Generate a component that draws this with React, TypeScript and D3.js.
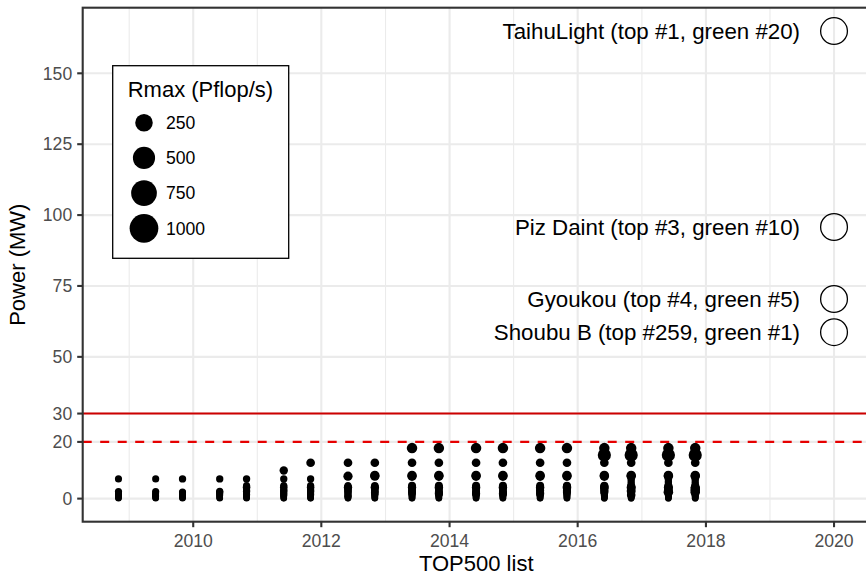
import * as d3 from "d3";

// TOP500 lists (month of publication)
const listDates = [
  "2008-11", "2009-06", "2009-11", "2010-06", "2010-11", "2011-06", "2011-11",
  "2012-06", "2012-11", "2013-06", "2013-11", "2014-06", "2014-11", "2015-06",
  "2015-11", "2016-06", "2016-11", "2017-06", "2017-11",
];

// power (MW) of the systems in each list
const powerByList = [
  [0.12, 0.35, 0.6, 0.9, 1.15, 1.4, 1.7, 2.1, 2.48, 6.95],
  [0.11, 0.34, 0.6, 0.86, 1.15, 1.38, 1.6, 2.0, 2.48, 6.95],
  [0.1, 0.35, 0.62, 0.9, 1.2, 1.5, 1.8, 2.1, 2.35, 6.95],
  [0.1, 0.33, 0.6, 0.9, 1.2, 1.5, 1.8, 2.1, 2.35, 2.58, 6.95],
  [0.1, 0.35, 0.65, 0.95, 1.25, 1.4, 1.8, 2.2, 2.58, 2.9, 3.3, 4.04, 4.59, 6.95],
  [0.1, 0.35, 0.65, 0.95, 1.25, 1.4, 1.8, 2.2, 2.58, 2.91, 3.3, 4.04, 4.59, 6.95, 9.89],
  [0.1, 0.35, 0.65, 0.95, 1.25, 1.4, 1.8, 2.2, 2.58, 2.91, 3.3, 4.04, 4.59, 6.95, 12.66],
  [0.1, 0.35, 0.66, 0.82, 1.0, 1.3, 1.6, 1.97, 2.3, 2.58, 2.9, 3.42, 3.95, 4.04, 4.59, 7.89, 12.66],
  [0.1, 0.35, 0.65, 0.9, 1.2, 1.5, 1.97, 2.3, 2.58, 2.9, 3.42, 3.95, 4.04, 4.51, 7.89, 8.21, 12.66],
  [0.1, 0.35, 0.65, 0.9, 1.2, 1.5, 1.97, 2.3, 2.66, 2.9, 3.42, 3.95, 4.04, 4.51, 7.89, 8.21, 12.66, 17.81],
  [0.1, 0.35, 0.65, 0.9, 1.2, 1.5, 1.75, 1.97, 2.3, 2.9, 3.42, 3.95, 4.04, 4.51, 7.89, 8.21, 12.66, 17.81],
  [0.1, 0.35, 0.65, 0.9, 1.2, 1.5, 1.75, 1.97, 2.3, 2.9, 3.42, 3.95, 4.04, 4.51, 7.89, 8.21, 12.66, 17.81],
  [0.1, 0.35, 0.65, 0.9, 1.2, 1.5, 1.75, 1.97, 2.3, 2.9, 3.42, 3.95, 4.04, 4.51, 7.89, 8.21, 12.66, 17.81],
  [0.1, 0.35, 0.65, 0.9, 1.2, 1.5, 1.75, 2.3, 2.83, 3.42, 3.95, 4.04, 4.51, 7.89, 8.21, 12.66, 17.81],
  [0.1, 0.35, 0.65, 0.9, 1.2, 1.5, 1.8, 2.33, 2.83, 3.42, 3.62, 3.95, 4.23, 4.51, 7.89, 8.21, 12.66, 17.81],
  [0.1, 0.35, 0.65, 0.9, 1.2, 1.5, 1.8, 2.1, 2.33, 2.83, 3.42, 3.62, 3.95, 4.23, 4.51, 7.89, 8.21, 12.66, 15.37, 17.81],
  [0.1, 0.35, 0.65, 0.9, 1.2, 1.31, 1.6, 2.0, 2.4, 2.72, 3.2, 3.62, 3.94, 4.23, 5.0, 5.9, 6.8, 7.89, 8.21, 12.66, 15.37, 17.81],
  [0.1, 0.35, 0.65, 0.9, 1.2, 1.5, 1.8, 2.27, 2.5, 2.72, 3.2, 3.62, 3.94, 4.23, 5.0, 5.9, 6.8, 7.89, 8.21, 12.66, 15.37, 17.81],
  [0.1, 0.35, 0.65, 0.9, 1.2, 1.5, 1.8, 2.27, 2.5, 2.72, 3.18, 3.62, 3.84, 3.94, 5.0, 5.9, 6.8, 7.89, 8.21, 12.66, 15.37, 17.81],
];

// Rmax (Pflop/s), same order as powerByList
const rmaxByList = [
  [0.05, 0.06, 0.1, 0.12, 0.2, 0.18, 0.3, 0.46, 1.1, 1.06],
  [0.05, 0.07, 0.1, 0.15, 0.2, 0.2, 0.3, 0.5, 1.1, 1.06],
  [0.06, 0.08, 0.1, 0.15, 0.19, 0.3, 0.4, 0.83, 1.04, 1.76],
  [0.06, 0.08, 0.1, 0.2, 0.2, 0.3, 0.4, 0.8, 1.04, 1.27, 1.76],
  [0.06, 0.1, 0.1, 0.2, 0.3, 1.19, 0.5, 0.8, 1.27, 1.05, 0.5, 2.57, 1.05, 1.76],
  [0.07, 0.1, 0.12, 0.2, 0.3, 1.19, 0.5, 0.8, 1.27, 1.05, 0.6, 2.57, 1.05, 1.76, 8.16],
  [0.07, 0.1, 0.12, 0.2, 0.3, 1.19, 0.5, 0.8, 1.27, 1.05, 0.6, 2.57, 1.05, 1.76, 10.51],
  [0.08, 0.1, 0.15, 1.73, 0.3, 0.4, 0.6, 1.38, 0.8, 1.27, 1.05, 2.9, 8.16, 2.57, 1.05, 16.32, 10.51],
  [0.1, 0.12, 0.15, 0.2, 0.3, 0.5, 4.14, 0.8, 1.27, 1.05, 2.9, 8.16, 2.57, 2.66, 16.32, 17.59, 10.51],
  [0.1, 0.12, 0.15, 0.2, 0.4, 0.5, 4.29, 5.01, 1.27, 1.05, 2.9, 8.16, 2.57, 5.17, 17.17, 17.59, 10.51, 33.86],
  [0.1, 0.12, 0.15, 0.2, 0.4, 0.5, 6.27, 4.29, 5.01, 1.05, 2.9, 8.59, 2.57, 5.17, 17.17, 17.59, 10.51, 33.86],
  [0.1, 0.12, 0.15, 0.2, 0.4, 0.5, 6.27, 4.29, 5.01, 1.05, 2.9, 8.59, 2.57, 5.17, 17.17, 17.59, 10.51, 33.86],
  [0.1, 0.12, 0.15, 0.2, 0.4, 0.5, 6.27, 4.29, 5.01, 1.05, 2.9, 8.59, 2.57, 5.17, 17.17, 17.59, 10.51, 33.86],
  [0.1, 0.12, 0.15, 0.2, 0.4, 0.5, 6.27, 5.01, 5.54, 2.9, 8.59, 2.57, 5.17, 17.17, 17.59, 10.51, 33.86],
  [0.12, 0.15, 0.2, 0.3, 0.4, 0.6, 1.0, 6.27, 5.54, 2.9, 5.64, 8.59, 8.1, 5.17, 17.17, 17.59, 10.51, 33.86],
  [0.15, 0.2, 0.3, 0.4, 0.5, 0.7, 1.0, 1.5, 6.27, 5.54, 2.9, 5.64, 8.59, 8.1, 5.17, 17.17, 17.59, 10.51, 93.01, 33.86],
  [0.15, 0.2, 0.3, 0.4, 0.6, 9.78, 1.0, 1.5, 2.0, 13.55, 2.5, 5.64, 14.01, 8.1, 2.0, 1.8, 1.6, 17.17, 17.59, 10.51, 93.01, 33.86],
  [0.2, 0.3, 0.4, 0.5, 0.7, 1.0, 1.5, 19.59, 2.5, 13.55, 3.0, 7.42, 14.01, 8.1, 2.0, 1.8, 1.6, 17.17, 17.59, 10.51, 93.01, 33.86],
  [0.2, 0.3, 0.4, 0.5, 0.7, 1.0, 1.5, 19.59, 2.5, 13.55, 19.14, 7.42, 14.14, 14.01, 2.0, 1.8, 1.6, 17.17, 17.59, 10.51, 93.01, 33.86],
];

// highlighted systems, placed at 2020 (y = MW per Eflop/s)
const labelNames = [
  "TaihuLight (top #1, green #20)",
  "Piz Daint (top #3, green #10)",
  "Gyoukou (top #4, green #5)",
  "Shoubu B (top #259, green #1)",
];
const labelPower = [164.9, 95.8, 70.4, 58.7];
const labelDate = "2020-01";

const yBreaks = [0, 20, 30, 50, 75, 100, 125, 150];
const legendBreaks = [250, 500, 750, 1000];
const limitSolid = 30;
const limitDashed = 20;

const W = 866;
const H = 575;
const panel = { left: 82.7, right: 869.8, top: 7.7, bottom: 521.7 };
const font = "'Liberation Sans', Arial, Helvetica, sans-serif";

const parse = d3.timeParse("%Y-%m");

export default function App() {
  const listTimes = listDates.map((d) => parse(d) as Date);
  const labelTime = parse(labelDate) as Date;

  const points = listTimes.flatMap((t, i) =>
    powerByList[i].map((p, j) => ({ t, p, r: rmaxByList[i][j] }))
  );

  // ggplot-like 5% expansion
  const tExt = d3.extent([...listTimes, labelTime], (d) => d.getTime()) as [number, number];
  const tPad = (tExt[1] - tExt[0]) * 0.05;
  const x = d3
    .scaleTime()
    .domain([new Date(tExt[0] - tPad), new Date(tExt[1] + tPad)])
    .range([panel.left, panel.right]);

  const allPower = [...points.map((d) => d.p), ...labelPower];
  const pExt = d3.extent(allPower) as [number, number];
  const pPad = (pExt[1] - pExt[0]) * 0.05;
  const y = d3
    .scaleLinear()
    .domain([pExt[0] - pPad, pExt[1] + pPad])
    .range([panel.bottom, panel.top]);

  const size = d3.scaleSqrt().domain([0, 1000]).range([3.2, 14.35]);

  const majorX = x.ticks(d3.timeYear.every(2) as d3.TimeInterval);
  const minorX = x
    .ticks(d3.timeYear.every(1) as d3.TimeInterval)
    .filter((d) => d.getFullYear() % 2 === 1);

  const grid = "#EBEBEB";
  const axisCol = "#333333";
  const tickText = "#4D4D4D";

  return (
    <svg
      width={W}
      height={H}
      style={{ position: "absolute", left: 0, top: 0, background: "#fff" }}
      fontFamily={font}
    >
      <rect x={0} y={0} width={W} height={H} fill="#fff" />

      {/* grid */}
      {minorX.map((d) => (
        <line key={"mx" + d.getTime()} x1={x(d)} x2={x(d)} y1={panel.top} y2={panel.bottom} stroke={grid} strokeWidth={1.1} />
      ))}
      {majorX.map((d) => (
        <line key={"Mx" + d.getTime()} x1={x(d)} x2={x(d)} y1={panel.top} y2={panel.bottom} stroke={grid} strokeWidth={2.1} />
      ))}
      {yBreaks.map((v) => (
        <line key={"My" + v} x1={panel.left} x2={panel.right} y1={y(v)} y2={y(v)} stroke={grid} strokeWidth={2.1} />
      ))}

      {/* systems */}
      {points.map((d, i) => (
        <circle key={"p" + i} cx={x(d.t)} cy={y(d.p)} r={size(d.r)} fill="#000" />
      ))}

      {/* power limits */}
      <line x1={panel.left} x2={panel.right} y1={y(limitSolid)} y2={y(limitSolid)} stroke="#CD0000" strokeWidth={2.1} />
      <line
        x1={panel.left}
        x2={panel.right}
        y1={y(limitDashed)}
        y2={y(limitDashed)}
        stroke="#E60000"
        strokeWidth={2.1}
        strokeDasharray="9 8.5"
      />

      {/* highlighted systems */}
      {labelNames.map((name, i) => (
        <g key={name}>
          <circle cx={x(labelTime)} cy={y(labelPower[i])} r={13.4} fill="none" stroke="#000" strokeWidth={1.3} />
          <text x={x(labelTime) - 34} y={y(labelPower[i]) + 7.9} textAnchor="end" fontSize={22.3} fill="#000">
            {name}
          </text>
        </g>
      ))}

      {/* panel border */}
      <rect
        x={panel.left}
        y={panel.top}
        width={panel.right - panel.left}
        height={panel.bottom - panel.top}
        fill="none"
        stroke={axisCol}
        strokeWidth={2.1}
      />

      {/* y axis */}
      {yBreaks.map((v) => (
        <g key={"yt" + v}>
          <line x1={panel.left - 5.5} x2={panel.left} y1={y(v)} y2={y(v)} stroke={axisCol} strokeWidth={2.1} />
          <text x={panel.left - 10.5} y={y(v) + 6.3} textAnchor="end" fontSize={17.6} fill={tickText}>
            {v}
          </text>
        </g>
      ))}
      <text
        transform={`translate(25,${(panel.top + panel.bottom) / 2}) rotate(-90)`}
        textAnchor="middle"
        fontSize={22}
        fill="#000"
      >
        Power (MW)
      </text>

      {/* x axis */}
      {majorX.map((d) => (
        <g key={"xt" + d.getTime()}>
          <line x1={x(d)} x2={x(d)} y1={panel.bottom} y2={panel.bottom + 5.5} stroke={axisCol} strokeWidth={2.1} />
          <text x={x(d)} y={546.5} textAnchor="middle" fontSize={17.6} fill={tickText}>
            {d3.timeFormat("%Y")(d)}
          </text>
        </g>
      ))}
      <text x={(panel.left + panel.right) / 2} y={570.5} textAnchor="middle" fontSize={22} fill="#000">
        TOP500 list
      </text>

      {/* legend */}
      <rect x={112.7} y={65.7} width={176} height={192.6} fill="#fff" stroke="#000" strokeWidth={1.3} />
      <text x={127.7} y={96.7} fontSize={22} fill="#000">
        Rmax (Pflop/s)
      </text>
      {legendBreaks.map((v, i) => {
        const cy = 122.7 + i * 35.2;
        return (
          <g key={"lg" + v}>
            <circle cx={144} cy={cy} r={size(v)} fill="#000" />
            <text x={166} y={cy + 6.3} fontSize={17.6} fill="#000">
              {v}
            </text>
          </g>
        );
      })}
    </svg>
  );
}
